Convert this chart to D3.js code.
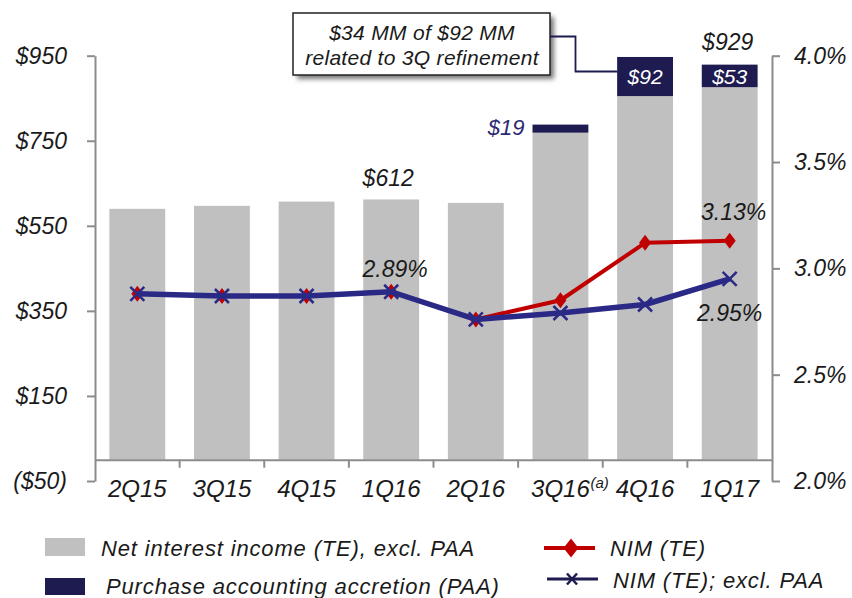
<!DOCTYPE html>
<html>
<head>
<meta charset="utf-8">
<script src="https://cdn.jsdelivr.net/npm/d3@7"></script>
<style>
  body { margin: 0; background: #fff; }
  svg text { font-family: "Liberation Sans", Arial, sans-serif; font-style: italic; fill: #1a1a1a; }
</style>
</head>
<body>
<svg id="chart" width="852" height="598"></svg>
<script>
// quarters on the x axis
const categories = ["2Q15", "3Q15", "4Q15", "1Q16", "2Q16", "3Q16", "4Q16", "1Q17"];
// $MM, net interest income (TE) excl. PAA
const niiExPaa = [590, 597, 607, 612, 604, 769, 855, 876];
// $MM, purchase accounting accretion
const paa = [0, 0, 0, 0, 0, 19, 92, 53];
// % NIM
const nimTE = [2.88, 2.87, 2.87, 2.89, 2.76, 2.85, 3.12, 3.13];
const nimExPaa = [2.88, 2.87, 2.87, 2.89, 2.76, 2.79, 2.83, 2.95];
// tick labels
const leftTicks = [-50, 150, 350, 550, 750, 950];
const rightTicks = [2.0, 2.5, 3.0, 3.5, 4.0];

const grey = "#c0c0c0", navy = "#1d1b50", red = "#c00000", blue = "#2a2a86", axisCol = "#8c8c8c";

const svg = d3.select("#chart");

const x = d3.scaleBand().domain(categories).range([95, 772]).paddingInner(0.34).paddingOuter(0.17);
const y = d3.scaleLinear().domain([-50, 950]).range([481, 55.7]);
const yR = d3.scaleLinear().domain([2.0, 4.0]).range([481, 55.7]);
const xc = c => x(c) + x.bandwidth() / 2;

const rows = categories.map((c, i) => ({ c, nii: niiExPaa[i], paa: paa[i], nim: nimTE[i], nimx: nimExPaa[i] }));

// bars
svg.append("g").selectAll("rect").data(rows).join("rect")
  .attr("x", d => x(d.c)).attr("width", x.bandwidth())
  .attr("y", d => y(d.nii)).attr("height", d => y(0) - y(d.nii))
  .attr("fill", grey);

svg.append("g").selectAll("rect").data(rows.filter(d => d.paa > 0)).join("rect")
  .attr("x", d => x(d.c)).attr("width", x.bandwidth())
  .attr("y", d => y(d.nii + d.paa)).attr("height", d => y(d.nii) - y(d.nii + d.paa))
  .attr("fill", navy);

// axes
function styleAxis(g, size) {
  g.selectAll("path, line").attr("stroke", axisCol).attr("stroke-width", 2);
  g.selectAll("text").attr("font-size", size).attr("font-family", null).attr("fill", "#1a1a1a");
}

svg.append("g").attr("transform", "translate(95,0)")
  .call(d3.axisLeft(y).tickValues(leftTicks).tickSize(8).tickSizeOuter(0).tickPadding(20)
    .tickFormat(d => d < 0 ? `($${-d})` : `$${d}`))
  .call(g => styleAxis(g, 23));

svg.append("g").attr("transform", "translate(772,0)")
  .call(d3.axisRight(yR).tickValues(rightTicks).tickSize(8).tickSizeOuter(0).tickPadding(14)
    .tickFormat(d => d.toFixed(1) + "%"))
  .call(g => styleAxis(g, 23));

const xAxis = svg.append("g").attr("transform", `translate(0,${y(0)})`)
  .call(d3.axisBottom(x).tickSize(0).tickSizeOuter(0).tickPadding(20))
  .call(g => styleAxis(g, 24));

// category separators
xAxis.selectAll(".sep").data(categories.slice(1)).join("line")
  .attr("x1", d => x(d) - x.step() * 0.17).attr("x2", d => x(d) - x.step() * 0.17)
  .attr("y1", 0).attr("y2", 8).attr("stroke", axisCol).attr("stroke-width", 2);

svg.append("text").attr("x", xc("3Q16") + 30).attr("y", 488)
  .attr("font-size", 15).text("(a)");

// NIM lines
const line = acc => d3.line().x(d => xc(d.c)).y(d => yR(acc(d)));

svg.append("path").datum(rows).attr("d", line(d => d.nim))
  .attr("fill", "none").attr("stroke", red).attr("stroke-width", 4).attr("stroke-linejoin", "round");
svg.append("g").selectAll("path").data(rows).join("path")
  .attr("transform", d => `translate(${xc(d.c)},${yR(d.nim)})`)
  .attr("d", "M0,-8L6,0L0,8L-6,0Z").attr("fill", red);

svg.append("path").datum(rows).attr("d", line(d => d.nimx))
  .attr("fill", "none").attr("stroke", blue).attr("stroke-width", 5.5).attr("stroke-linejoin", "round");
svg.append("g").selectAll("path").data(rows).join("path")
  .attr("transform", d => `translate(${xc(d.c)},${yR(d.nimx)})`)
  .attr("d", "M-7,-7L7,7M-7,7L7,-7").attr("stroke", blue).attr("stroke-width", 2.5);

// value labels
const lab = (tx, ty, t, size, anchor, fill) => svg.append("text")
  .attr("x", tx).attr("y", ty).attr("font-size", size)
  .attr("text-anchor", anchor || "middle").style("fill", fill || "#1a1a1a").text(t);

const r = c => rows[categories.indexOf(c)];
lab(xc("1Q16") - 3, y(r("1Q16").nii) - 13, "$612", 23);
lab(xc("1Q17") - 2, y(r("1Q17").nii + r("1Q17").paa) - 15, "$929", 23);
lab(x("3Q16") - 8, y(r("3Q16").nii + r("3Q16").paa) + 10, "$19", 22, "end", "#2c2a72");
lab(xc("4Q16"), (y(r("4Q16").nii) + y(r("4Q16").nii + r("4Q16").paa)) / 2 + 7, "$92", 21, "middle", "#fff");
lab(xc("1Q17"), (y(r("1Q17").nii) + y(r("1Q17").nii + r("1Q17").paa)) / 2 + 8, "$53", 21, "middle", "#fff");
lab(xc("1Q16") + 4, yR(r("1Q16").nim) - 15, "2.89%", 23);
lab(xc("1Q17") + 4, yR(r("1Q17").nim) - 21, "3.13%", 23);
lab(xc("1Q17"), yR(r("1Q17").nimx) + 42, "2.95%", 23);

// callout box
const defs = svg.append("defs");
defs.append("filter").attr("id", "sh").attr("x", "-10%").attr("y", "-20%").attr("width", "130%").attr("height", "160%")
  .append("feGaussianBlur").attr("stdDeviation", 2.5);
svg.append("rect").attr("x", 297).attr("y", 17).attr("width", 257).attr("height", 62)
  .attr("fill", "#777").attr("filter", "url(#sh)");
svg.append("rect").attr("x", 293).attr("y", 13).attr("width", 257).attr("height", 62)
  .attr("fill", "#fff").attr("stroke", "#222").attr("stroke-width", 1.5);
lab(422, 40, "$34 MM of $92 MM", 21).style("letter-spacing", "0.3px");
lab(422, 65, "related to 3Q refinement", 21).style("letter-spacing", "0.3px");
svg.append("path")
  .attr("d", `M550,36.5H575.5V71.5H${x("4Q16")}`)
  .attr("fill", "none").attr("stroke", navy).attr("stroke-width", 1.8);

// legend
const lg = svg.append("g");
lg.append("rect").attr("x", 45).attr("y", 538).attr("width", 40).attr("height", 18).attr("fill", grey);
lg.append("rect").attr("x", 45).attr("y", 578).attr("width", 40).attr("height", 17).attr("fill", navy);
lg.append("text").attr("x", 101).attr("y", 556).attr("font-size", 22).style("letter-spacing", "0.85px")
  .text("Net interest income (TE), excl. PAA");
lg.append("text").attr("x", 106).attr("y", 594).attr("font-size", 22).style("letter-spacing", "0.85px")
  .text("Purchase accounting accretion (PAA)");

lg.append("line").attr("x1", 544).attr("x2", 595).attr("y1", 548).attr("y2", 548).attr("stroke", red).attr("stroke-width", 4);
lg.append("path").attr("transform", "translate(571,548)").attr("d", "M0,-9.5L7.5,0L0,9.5L-7.5,0Z").attr("fill", red);
lg.append("text").attr("x", 610).attr("y", 556).attr("font-size", 22).style("letter-spacing", "0.85px").text("NIM (TE)");

lg.append("line").attr("x1", 547).attr("x2", 598).attr("y1", 579).attr("y2", 579).attr("stroke", navy).attr("stroke-width", 3);
lg.append("path").attr("transform", "translate(572,579)").attr("d", "M-5,-5.5L5,5.5M-5,5.5L5,-5.5")
  .attr("stroke", navy).attr("stroke-width", 2.5);
lg.append("text").attr("x", 613).attr("y", 588).attr("font-size", 22).style("letter-spacing", "0.85px").text("NIM (TE); excl. PAA");
</script>
</body>
</html>
